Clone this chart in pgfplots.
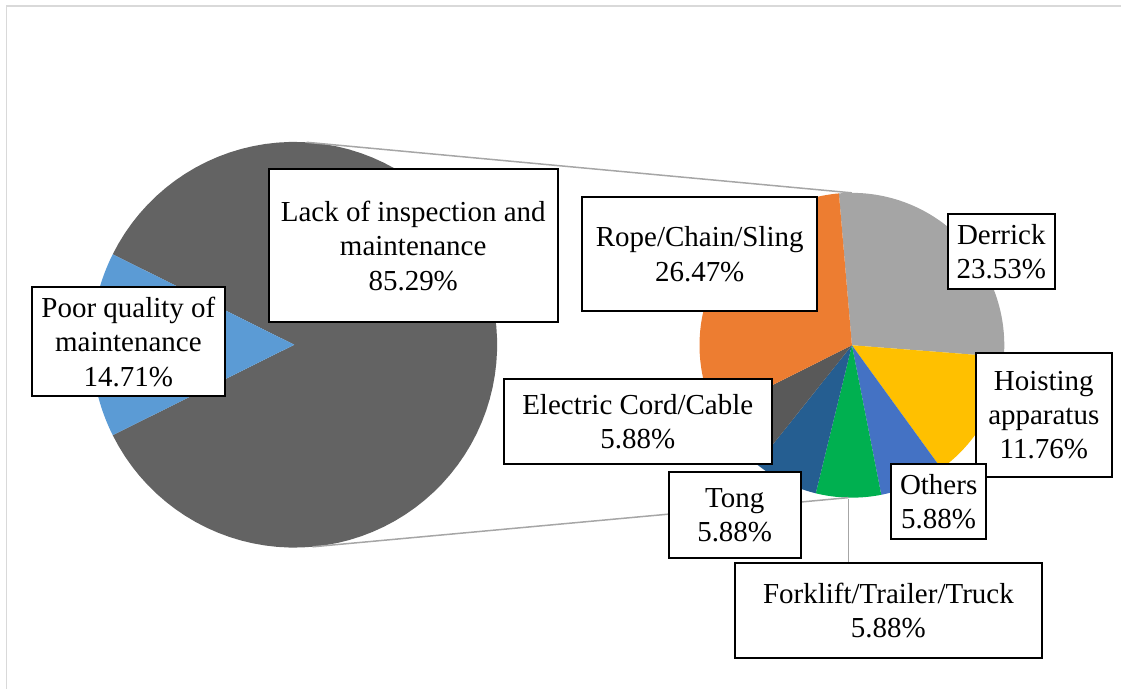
\documentclass[border=0pt]{standalone}
\usepackage{fontspec}
\setmainfont{Liberation Serif}
\usepackage{pgfplots}
\usepackage{pgfplotstable}
\pgfplotsset{compat=1.18}

% slice colours
\definecolor{cLack}{HTML}{636363}
\definecolor{cPoor}{HTML}{5B9BD5}
\definecolor{cDerrick}{HTML}{A5A5A5}
\definecolor{cHoist}{HTML}{FFC000}
\definecolor{cOthers}{HTML}{4472C4}
\definecolor{cFork}{HTML}{00B050}
\definecolor{cTong}{HTML}{255E91}
\definecolor{cCord}{HTML}{595959}
\definecolor{cRope}{HTML}{ED7D31}
\definecolor{cLine}{HTML}{A6A6A6}
\definecolor{cFrame}{HTML}{D9D9D9}

% shares of all accidents (%)
\pgfplotstableread[col sep=comma]{
cause,share
Lack of inspection and maintenance,85.29
Poor quality of maintenance,14.71
}\primarytable

% breakdown of "Lack of inspection and maintenance" (% of all accidents)
\pgfplotstableread[col sep=comma]{
equipment,share
Derrick,23.53
Hoisting apparatus,11.76
Others,5.88
Forklift/Trailer/Truck,5.88
Tong,5.88
Electric Cord/Cable,5.88
Rope/Chain/Sling,26.47
}\secondarytable

% geometry (axis units = pixels, y upwards)
\def\pcx{294.5}\def\pcy{344}\def\pr{203}
\def\scx{852.5}\def\scy{343.5}\def\sr{152.5}
\def\secstart{94.9}

% one pie slice: centre x, centre y, radius, from angle, to angle, colour
\newcommand\pieslice[6]{%
  \addplot[draw=none, fill=#6, domain=#4:#5, samples=90, variable=\t]
    ({#1+#3*cos(\t)},{#2+#3*sin(\t)}) -- (axis cs:#1,#2) -- cycle;}

\newcommand\secslice[2]{%
  \edef\lo{\csname secLo#1\endcsname}%
  \edef\hi{\csname secHi#1\endcsname}%
  \pieslice{\scx}{\scy}{\sr}{\lo}{\hi}{#2}}

\tikzset{lbl/.style={draw=black, line width=1pt, fill=white, align=center,
  inner sep=0pt, font=\fontsize{14.5}{17.2}\selectfont}}

\begin{document}
\begin{tikzpicture}
% primary pie angles
\pgfplotstablegetelem{0}{share}\of\primarytable \let\shLack\pgfplotsretval
\pgfplotstablegetelem{1}{share}\of\primarytable \let\shPoor\pgfplotsretval
\pgfmathsetmacro\poorLo{180-\shPoor*1.8}
\pgfmathsetmacro\poorHi{180+\shPoor*1.8}
\pgfmathsetmacro\lackLo{\poorHi-360}
\pgfmathsetmacro\lackHi{\lackLo+\shLack*3.6}
% secondary pie angles, clockwise from the start angle
\def\secTotal{0}
\pgfplotsforeachungrouped \i in {0,...,6}{%
  \pgfplotstablegetelem{\i}{share}\of\secondarytable
  \pgfmathsetmacro\secTotal{\secTotal+\pgfplotsretval}}
\let\cur\secstart
\pgfplotsforeachungrouped \i in {0,...,6}{%
  \pgfplotstablegetelem{\i}{share}\of\secondarytable
  \pgfmathsetmacro\nxt{\cur-\pgfplotsretval/\secTotal*360}%
  \expandafter\xdef\csname secHi\i\endcsname{\cur}%
  \expandafter\xdef\csname secLo\i\endcsname{\nxt}%
  \let\cur\nxt}

\begin{axis}[at={(0,0)}, anchor=south west, scale only axis,
  width=561pt, height=344.5pt, xmin=0, xmax=1122, ymin=0, ymax=689,
  hide axis, clip=false]
  \path (axis cs:0,0) rectangle (axis cs:1122,689);
  % frame
  \draw[cFrame, line width=0.8pt] (axis cs:6.5,0) -- (axis cs:6.5,683) -- (axis cs:1122,683);

  % primary pie
  \pieslice{\pcx}{\pcy}{\pr}{\lackLo}{\lackHi}{cLack}
  \pieslice{\pcx}{\pcy}{\pr}{\poorLo}{\poorHi}{cPoor}

  % secondary pie
  \secslice{0}{cDerrick}
  \secslice{1}{cHoist}
  \secslice{2}{cOthers}
  \secslice{3}{cFork}
  \secslice{4}{cTong}
  \secslice{5}{cCord}
  \secslice{6}{cRope}

  % connector lines between the pies and leader line
  \addplot[cLine, line width=0.75pt] coordinates {(306.9,546.6) (852.5,496)};
  \addplot[cLine, line width=0.75pt] coordinates {(312.9,141.8) (849,191)};
  \addplot[cLine, line width=0.75pt] coordinates {(849,190) (849,126)};

  % data labels
  \node[lbl, minimum width=144.5pt, minimum height=76.7pt] at (axis cs:413.5,443)
    {Lack of inspection and\\maintenance\\85.29\%};
  \node[lbl, minimum width=96.2pt, minimum height=54.5pt] at (axis cs:128.5,346.8)
    {Poor quality of\\maintenance\\14.71\%};
  \node[lbl, minimum width=117.3pt, minimum height=56.7pt] at (axis cs:700.2,434.7)
    {Rope/Chain/Sling\\26.47\%};
  \node[lbl, minimum width=53.3pt, minimum height=37.5pt] at (axis cs:1002,437.2)
    {Derrick\\23.53\%};
  \node[lbl, minimum width=67.8pt, minimum height=62pt] at (axis cs:1044.5,273.7)
    {Hoisting\\apparatus\\11.76\%};
  \node[lbl, minimum width=47.4pt, minimum height=37.7pt] at (axis cs:939.3,187.3)
    {Others\\5.88\%};
  \node[lbl, minimum width=153.7pt, minimum height=47.8pt] at (axis cs:889,78)
    {Forklift/Trailer/Truck\\5.88\%};
  \node[lbl, minimum width=65.9pt, minimum height=43pt] at (axis cs:735.2,173.7)
    {Tong\\5.88\%};
  \node[lbl, minimum width=134.2pt, minimum height=42.4pt] at (axis cs:638.2,267.3)
    {Electric Cord/Cable\\5.88\%};
\end{axis}
\end{tikzpicture}
\end{document}
